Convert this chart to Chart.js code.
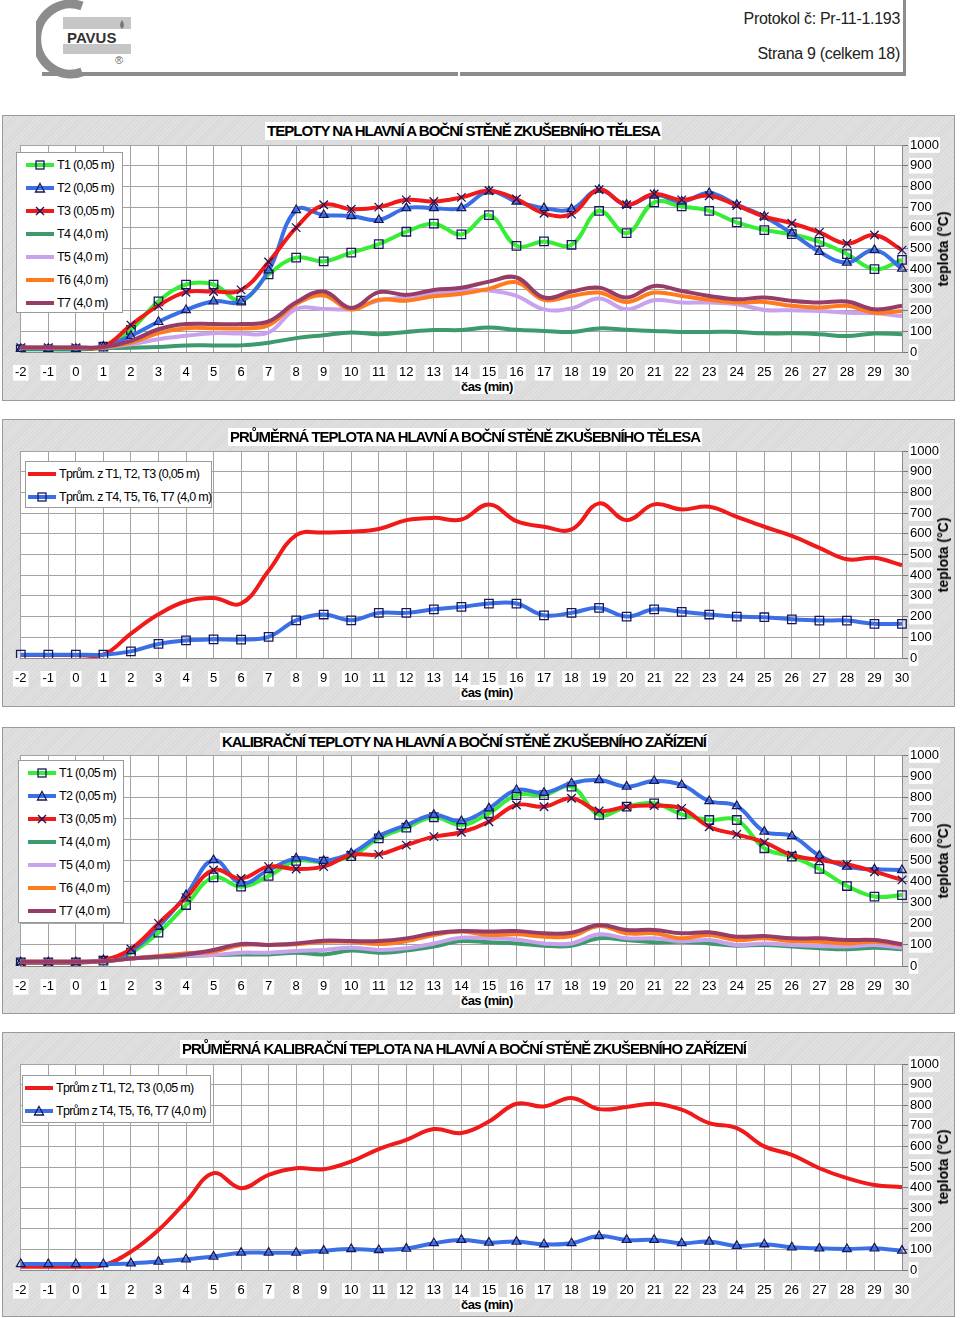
<!DOCTYPE html>
<html>
<head>
<meta charset="utf-8">
<script src="https://cdn.jsdelivr.net/npm/chart.js@4.4.0/dist/chart.umd.min.js"></script>
<style>
  body { margin: 0; width: 960px; height: 1318px; background: #fff; position: relative; overflow: hidden;
         font-family: 'Liberation Sans', Arial, sans-serif; }
  .hdr { position: absolute; color: #222; font-size: 16px; letter-spacing: -0.3px; white-space: nowrap; }
  .panel { position: absolute; left: 2px; width: 953px;
           background-color: #e0e0e0;
           background-image: repeating-linear-gradient(135deg, rgba(0,0,0,0.035) 0 1px, transparent 1px 3px);
           box-shadow: inset 0 0 0 1px #9a9a9a; }
  .panel canvas { position: absolute; left: 0; top: 0; }
  .title { position: absolute; background: #fff; font-weight: bold; font-size: 15px; line-height: 18px;
           white-space: nowrap; letter-spacing: -1px; transform-origin: 0 0; padding: 0 2px; }
  .legend { position: absolute; background: #fff; border: 1px solid #9a9a9a; box-sizing: border-box; }
  .legend .row { display: flex; align-items: center; height: 23px; font-size: 12.5px; letter-spacing: -0.7px; white-space: nowrap; }
  .legend svg { margin-right: 3px; flex: none; }
  .xtitle { position: absolute; left: 458px; font-weight: bold; font-size: 13px; letter-spacing: -0.6px;
            background: #fff; padding: 0 1px; line-height: 15px; }
  .ytitle { position: absolute; font-weight: bold; font-size: 14px; white-space: nowrap; line-height: 16px;
            transform: translate(-50%, -50%) rotate(-90deg); }
</style>
</head>
<body>

<!-- header -->
<svg width="140" height="80" style="position:absolute;left:36px;top:0">
  <path d="M 46 6 A 34 35 0 1 0 46 72" stroke="#8c8c8c" stroke-width="9" fill="none"/>
  <rect x="27" y="17" width="68" height="12" fill="#c6c6c6"/>
  <rect x="27" y="44" width="68" height="10" fill="#c6c6c6"/>
  <path d="M 86 20 q -4 6 0 9 q 4 -3 0 -9 z" fill="#777"/>
</svg>
<div class="hdr" style="left:67px;top:29px;font-weight:bold;font-size:15px;letter-spacing:0;color:#333">PAVUS</div>
<div class="hdr" style="left:115px;top:54px;font-size:11px;color:#666">®</div>
<div style="position:absolute;left:42px;top:72px;width:416px;height:4px;background:#8c8c8c"></div>
<div style="position:absolute;left:460px;top:72px;width:446px;height:4px;background:#8c8c8c"></div>
<div style="position:absolute;left:903px;top:0;width:3px;height:76px;background:#8c8c8c"></div>
<div class="hdr" style="right:60px;top:10px">Protokol č: Pr-11-1.193</div>
<div class="hdr" style="right:60px;top:45px">Strana 9 (celkem 18)</div>

<div class="panel" id="p1"><canvas id="c1"></canvas></div>
<div class="panel" id="p2"><canvas id="c2"></canvas></div>
<div class="panel" id="p3"><canvas id="c3"></canvas></div>
<div class="panel" id="p4"><canvas id="c4"></canvas></div>

<script>
// time axis (min)
const minutes = [-2, -1, 0, 1, 2, 3, 4, 5, 6, 7, 8, 9, 10, 11, 12, 13, 14, 15, 16, 17, 18, 19, 20, 21, 22, 23, 24, 25, 26, 27, 28, 29, 30];

// chart 1 - teploty zkusebniho telesa
const c1T1 = [12, 12, 12, 26, 107, 245, 326, 326, 248, 375, 456, 438, 480, 521, 581, 620, 568, 661, 513, 534, 518, 682, 574, 723, 703, 682, 626, 589, 569, 532, 473, 400, 445];
const c1T2 = [15, 15, 15, 26, 78, 146, 203, 245, 245, 394, 686, 662, 657, 638, 695, 695, 695, 776, 727, 695, 690, 784, 711, 760, 727, 768, 711, 654, 573, 484, 432, 492, 403];
const c1T3 = [21, 21, 21, 26, 130, 224, 289, 292, 300, 435, 601, 711, 690, 700, 735, 727, 747, 779, 739, 670, 666, 784, 711, 763, 735, 755, 708, 654, 622, 578, 524, 565, 492];
const c1T4 = [18, 18, 18, 19, 21, 24, 32, 32, 32, 45, 67, 81, 94, 86, 97, 106, 106, 118, 107, 102, 97, 114, 107, 102, 97, 97, 97, 90, 90, 86, 77, 89, 86];
const c1T5 = [20, 20, 20, 22, 37, 62, 78, 91, 89, 94, 208, 208, 208, 248, 265, 281, 297, 297, 271, 206, 211, 258, 206, 250, 239, 239, 231, 203, 202, 198, 190, 187, 174];
const c1T6 = [20, 20, 20, 22, 45, 91, 115, 115, 114, 130, 232, 273, 205, 253, 248, 269, 281, 305, 337, 252, 271, 287, 242, 287, 271, 252, 239, 242, 223, 215, 223, 190, 198];
const c1T7 = [22, 22, 22, 24, 54, 110, 135, 135, 135, 148, 240, 292, 213, 289, 276, 300, 310, 340, 360, 263, 292, 311, 263, 319, 295, 271, 255, 263, 247, 239, 244, 206, 223];

// chart 2 - prumerna teplota telesa
const c2Hot = [15, 15, 15, 16, 118, 211, 274, 290, 263, 421, 594, 606, 610, 623, 666, 677, 669, 742, 661, 634, 621, 747, 666, 742, 718, 731, 682, 634, 590, 532, 477, 484, 448];
const c2Cold = [16, 16, 16, 16, 32, 68, 85, 90, 89, 102, 182, 210, 182, 218, 218, 235, 247, 263, 263, 206, 218, 242, 200, 235, 223, 210, 200, 197, 187, 181, 181, 165, 165];

// chart 3 - kalibracni teploty
const c3T1 = [17, 17, 17, 25, 63, 158, 289, 420, 376, 427, 498, 494, 521, 605, 656, 705, 668, 724, 810, 810, 850, 716, 755, 771, 719, 692, 692, 558, 518, 460, 379, 329, 336];
const c3T2 = [17, 17, 17, 28, 71, 186, 336, 502, 392, 455, 510, 498, 534, 616, 668, 716, 687, 747, 834, 821, 866, 881, 850, 877, 858, 782, 758, 637, 616, 523, 471, 458, 455];
const c3T3 = [17, 17, 17, 28, 81, 202, 324, 455, 415, 471, 460, 471, 526, 529, 573, 613, 634, 684, 763, 755, 795, 735, 755, 760, 747, 660, 624, 586, 526, 502, 482, 447, 408];
const c3T4 = [20, 20, 20, 22, 36, 41, 47, 52, 55, 55, 63, 55, 73, 63, 73, 92, 118, 112, 107, 96, 96, 131, 123, 112, 115, 107, 96, 100, 92, 84, 79, 87, 79];
const c3T5 = [20, 20, 20, 22, 36, 44, 49, 52, 63, 63, 71, 76, 87, 76, 84, 107, 134, 131, 126, 107, 107, 150, 131, 131, 118, 123, 100, 107, 100, 95, 92, 100, 87];
const c3T6 = [20, 20, 20, 22, 36, 47, 60, 68, 100, 100, 103, 115, 115, 104, 118, 147, 163, 147, 150, 139, 142, 190, 155, 155, 131, 147, 123, 131, 118, 115, 107, 115, 100];
const c3T7 = [20, 20, 20, 22, 36, 44, 55, 76, 104, 100, 107, 120, 118, 118, 131, 155, 166, 163, 166, 155, 158, 194, 171, 171, 155, 160, 139, 142, 131, 131, 123, 123, 103];

// chart 4 - prumerna kalibracni teplota
const c4Hot = [16, 16, 16, 24, 89, 194, 332, 470, 397, 462, 494, 489, 527, 587, 632, 684, 665, 721, 807, 794, 835, 781, 791, 807, 778, 713, 689, 600, 559, 494, 446, 413, 402];
const c4Cold = [29, 29, 29, 29, 32, 41, 52, 65, 84, 84, 84, 94, 102, 97, 104, 130, 146, 133, 138, 125, 130, 165, 146, 146, 130, 138, 117, 125, 110, 105, 102, 105, 94];

// texts
const probeLabels = ['T1 (0,05 m)', 'T2 (0,05 m)', 'T3 (0,05 m)', 'T4 (4,0 m)', 'T5 (4,0 m)', 'T6 (4,0 m)', 'T7 (4,0 m)'];
const avgLabels2 = ['Tprům. z T1, T2, T3 (0,05 m)', 'Tprům. z T4, T5, T6, T7 (4,0 m)'];
const avgLabels4 = ['Tprům z T1, T2, T3 (0,05 m)', 'Tprům z T4, T5, T6, T7 (4,0 m)'];
const titles = [
  'TEPLOTY NA HLAVNÍ A BOČNÍ STĚNĚ ZKUŠEBNÍHO TĚLESA',
  'PRŮMĚRNÁ TEPLOTA NA HLAVNÍ A BOČNÍ STĚNĚ ZKUŠEBNÍHO TĚLESA',
  'KALIBRAČNÍ TEPLOTY NA HLAVNÍ A BOČNÍ STĚNĚ ZKUŠEBNÍHO ZAŘÍZENÍ',
  'PRŮMĚRNÁ KALIBRAČNÍ TEPLOTA NA HLAVNÍ A BOČNÍ STĚNĚ ZKUŠEBNÍHO ZAŘÍZENÍ'
];

const FONT = "'Liberation Sans Narrow', 'Liberation Sans', Arial, sans-serif";
const NAVY = '#17175e';
const colors = {
  T1: '#35ee35', T2: '#3b6fe6', T3: '#f01a1a', T4: '#3c9a6c',
  T5: '#c9a2ee', T6: '#ff7a1c', T7: '#963c68'
};

const probeColors = [colors.T1, colors.T2, colors.T3, colors.T4, colors.T5, colors.T6, colors.T7];
const probeMarkers = ['rect', 'triangle', 'crossRot', null, null, null, null];

// white plot area
const plotBg = {
  id: 'plotBg',
  beforeDraw(chart) {
    const { ctx, chartArea: a } = chart;
    ctx.save();
    ctx.fillStyle = '#fff';
    ctx.fillRect(a.left, a.top, a.right - a.left, a.bottom - a.top);
    ctx.restore();
  }
};

function markerSvg(color, marker) {
  let m = '';
  if (marker === 'rect') m = `<rect x="10" y="2" width="8" height="8" fill="none" stroke="${NAVY}" stroke-width="1.3"/>`;
  if (marker === 'triangle') m = `<polygon points="14,1.5 18.5,10 9.5,10" fill="none" stroke="${NAVY}" stroke-width="1.3"/>`;
  if (marker === 'crossRot') m = `<path d="M10 2 L18 10 M18 2 L10 10" stroke="${NAVY}" stroke-width="1.4"/>`;
  return `<svg width="28" height="12"><line x1="0" y1="6" x2="28" y2="6" stroke="${color}" stroke-width="4"/>${m}</svg>`;
}

function makePanel(cfg) {
  const panel = document.getElementById(cfg.panel);
  panel.style.top = cfg.top + 'px';
  panel.style.height = cfg.height + 'px';

  const canvas = document.getElementById(cfg.canvas);
  canvas.width = 953;
  canvas.height = cfg.height;

  const xH = cfg.height - cfg.plotBottom;
  const n = cfg.series.length;

  const datasets = cfg.series.map((s, i) => ({
    label: s.label,
    data: s.data,
    borderColor: s.color,
    backgroundColor: s.color,
    borderWidth: 4,
    tension: 0.4,
    pointStyle: s.marker || false,
    pointRadius: s.marker ? (s.marker === 'triangle' ? 5 : 6) : 0,
    pointBorderColor: NAVY,
    pointBackgroundColor: 'rgba(0,0,0,0)',
    pointBorderWidth: 1.3,
    order: n - i
  }));

  new Chart(canvas, {
    type: 'line',
    data: { labels: minutes.map(String), datasets },
    options: {
      responsive: false,
      animation: false,
      events: [],
      layout: { padding: { left: 7, top: cfg.plotTop, right: 0, bottom: 0 } },
      plugins: { legend: { display: false }, tooltip: { enabled: false } },
      scales: {
        x: {
          type: 'category',
          offset: false,
          grid: { color: '#a3a3a3', drawTicks: false },
          border: { color: '#8a8a8a' },
          ticks: {
            color: '#000', font: { family: FONT, size: 13 }, padding: 13,
            maxRotation: 0, autoSkip: false,
            showLabelBackdrop: true, backdropColor: '#fff', backdropPadding: { x: 2, y: 0 }
          },
          afterFit: (scale) => { scale.height = xH; }
        },
        y: {
          position: 'right',
          min: 0, max: 1000,
          grid: { color: '#a3a3a3', tickLength: 6, tickColor: '#777' },
          border: { color: '#8a8a8a' },
          ticks: {
            stepSize: 100, color: '#000', font: { family: FONT, size: 13 }, padding: 2,
            callback: (v) => String(v),
            showLabelBackdrop: true, backdropColor: '#fff', backdropPadding: { x: 1, y: 0 }
          },
          afterFit: (scale) => { scale.width = 53; }
        }
      }
    },
    plugins: [plotBg]
  });

  // title
  const t = document.createElement('div');
  t.className = 'title';
  t.textContent = cfg.title;
  t.style.left = cfg.titleX + 'px';
  t.style.top = cfg.titleY + 'px';
  panel.appendChild(t);
  const w = t.getBoundingClientRect().width;
  t.style.transform = `scaleX(${cfg.titleW / w})`;

  // legend
  const lg = document.createElement('div');
  lg.className = 'legend';
  lg.style.left = cfg.legend.x + 'px';
  lg.style.top = cfg.legend.y + 'px';
  lg.style.width = cfg.legend.w + 'px';
  lg.style.height = cfg.legend.h + 'px';
  cfg.series.forEach(s => {
    const row = document.createElement('div');
    row.className = 'row';
    row.style.paddingLeft = cfg.legend.indent + 'px';
    row.innerHTML = markerSvg(s.color, s.marker) + '<span></span>';
    row.lastChild.textContent = s.label;
    lg.appendChild(row);
  });
  panel.appendChild(lg);

  // axis titles
  const xt = document.createElement('div');
  xt.className = 'xtitle';
  xt.textContent = 'čas (min)';
  xt.style.top = (cfg.plotBottom + 27) + 'px';
  panel.appendChild(xt);

  const yt = document.createElement('div');
  yt.className = 'ytitle';
  yt.textContent = 'teplota (°C)';
  yt.style.left = '941px';
  yt.style.top = ((cfg.plotTop + cfg.plotBottom) / 2) + 'px';
  panel.appendChild(yt);
}

const c1Data = [c1T1, c1T2, c1T3, c1T4, c1T5, c1T6, c1T7];
const c3Data = [c3T1, c3T2, c3T3, c3T4, c3T5, c3T6, c3T7];

makePanel({
  panel: 'p1', canvas: 'c1', top: 115, height: 286, plotTop: 30, plotBottom: 237,
  title: titles[0], titleX: 263, titleY: 7, titleW: 397,
  legend: { x: 14, y: 37, w: 107, h: 161, indent: 9 },
  series: probeLabels.map((l, i) => ({ label: l, data: c1Data[i], color: probeColors[i], marker: probeMarkers[i] }))
});

makePanel({
  panel: 'p2', canvas: 'c2', top: 419, height: 288, plotTop: 32, plotBottom: 239,
  title: titles[1], titleX: 226, titleY: 9, titleW: 474,
  legend: { x: 23, y: 42, w: 187, h: 47, indent: 2 },
  series: [
    { label: avgLabels2[0], data: c2Hot, color: colors.T3, marker: null },
    { label: avgLabels2[1], data: c2Cold, color: colors.T2, marker: 'rect' }
  ]
});

makePanel({
  panel: 'p3', canvas: 'c3', top: 727, height: 287, plotTop: 28, plotBottom: 239,
  title: titles[2], titleX: 218, titleY: 6, titleW: 488,
  legend: { x: 16, y: 33, w: 106, h: 163, indent: 9 },
  series: probeLabels.map((l, i) => ({ label: l, data: c3Data[i], color: probeColors[i], marker: probeMarkers[i] }))
});

makePanel({
  panel: 'p4', canvas: 'c4', top: 1032, height: 285, plotTop: 32, plotBottom: 238,
  title: titles[3], titleX: 178, titleY: 8, titleW: 568,
  legend: { x: 20, y: 43, w: 189, h: 48, indent: 2 },
  series: [
    { label: avgLabels4[0], data: c4Hot, color: colors.T3, marker: null },
    { label: avgLabels4[1], data: c4Cold, color: colors.T2, marker: 'triangle' }
  ]
});
</script>
</body>
</html>
